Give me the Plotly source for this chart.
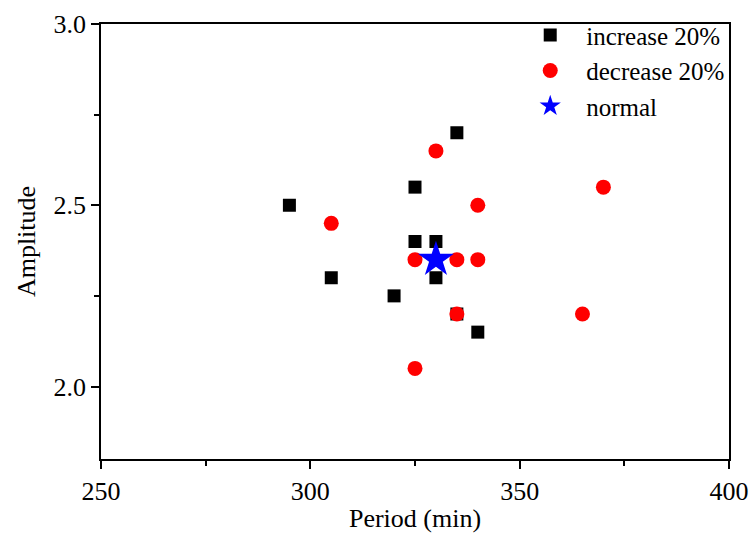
import plotly.graph_objects as go

inc_x = [295, 305, 320, 325, 325, 330, 330, 335, 335, 340]
inc_y = [2.50, 2.30, 2.25, 2.55, 2.40, 2.40, 2.30, 2.70, 2.20, 2.15]

dec_x = [305, 325, 325, 330, 335, 335, 340, 340, 365, 370]
dec_y = [2.45, 2.35, 2.05, 2.65, 2.35, 2.20, 2.50, 2.35, 2.20, 2.55]

norm_x = [330]
norm_y = [2.35]

font = "Liberation Serif, Times New Roman, serif"

fig = go.Figure()
fig.add_trace(go.Scatter(x=inc_x, y=inc_y, mode="markers", name="increase 20%",
                         marker=dict(symbol="square", size=13, color="black")))
fig.add_trace(go.Scatter(x=dec_x, y=dec_y, mode="markers", name="decrease 20%",
                         marker=dict(symbol="circle", size=15, color="red")))
fig.add_trace(go.Scatter(x=norm_x, y=norm_y, mode="markers", name="normal",
                         marker=dict(symbol="star", size=27, color="blue", line=dict(width=0))))

axis_common = dict(showline=True, linecolor="black", linewidth=1.5, mirror=True,
                   ticks="outside", tickcolor="black", tickwidth=1.5, ticklen=8,
                   showgrid=False, zeroline=False, automargin=False,
                   tickfont=dict(family=font, size=26, color="black"))

fig.update_xaxes(range=[250, 400], dtick=50, tick0=250,
                 minor=dict(dtick=25, ticks="outside", ticklen=5, tickcolor="black", tickwidth=1.5),
                 title=dict(text="Period (min)", font=dict(family=font, size=26, color="black"), standoff=4),
                 **axis_common)
fig.update_yaxes(range=[1.8, 3.0], dtick=0.5, tick0=2.0, tickformat=".1f",
                 minor=dict(dtick=0.25, ticks="outside", ticklen=5, tickcolor="black", tickwidth=1.5),
                 title=dict(text="Amplitude", font=dict(family=font, size=26, color="black"), standoff=10),
                 **axis_common)

fig.update_layout(width=754, height=540, plot_bgcolor="white", paper_bgcolor="white",
                  margin=dict(l=101, r=25, t=21, b=81),
                  legend=dict(x=0.658, y=1.027, xanchor="left", yanchor="top",
                              bgcolor="rgba(0,0,0,0)", tracegroupgap=0, itemwidth=62,
                              font=dict(family=font, size=25, color="black")),
                  font=dict(family=font))
fig.write_html("out.html", config={"displayModeBar": False},
               post_script="document.body.style.margin='0';")
